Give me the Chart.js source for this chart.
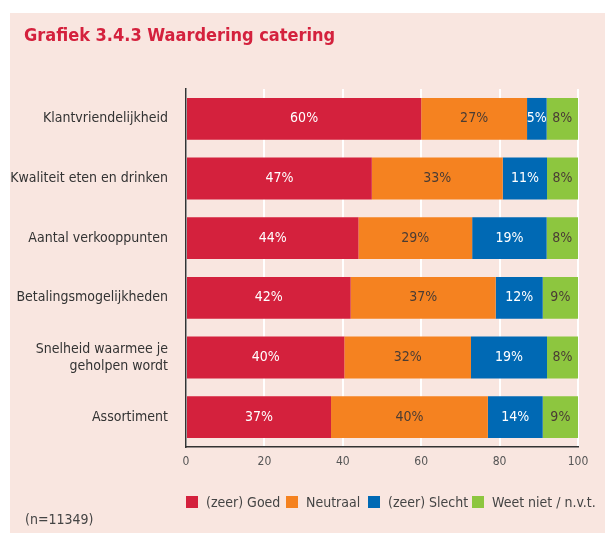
<!DOCTYPE html>
<html lang="nl">
<head>
  <meta charset="UTF-8">
  <title>Grafiek 3.4.3 Waardering catering</title>
  <style>
    body {
      margin: 0;
      background-color: #fff;
      font-family: 'Liberation Sans Narrow', 'DejaVu Sans Condensed', sans-serif;
    }
    .panel {
      position: absolute;
      left: 10px;
      top: 13px;
      width: 595px;
      height: 520px;
      background-color: #f9e6e0;
    }
    .wrap {
      position: absolute;
      left: 0;
      top: 0;
      width: 605px;
      height: 533px;
    }
    h2 {
      position: absolute;
      left: 24px;
      top: 24px;
      margin: 0;
      font-size: 18px;
      font-weight: bold;
      color: #d4213d;
    }
    .legend {
      position: absolute;
      left: 186px;
      top: 494px;
      font-size: 14px;
      color: #444;
    }
    .legend span {
      position: absolute;
      top: 0;
      white-space: nowrap;
      display: flex;
      align-items: center;
    }
    .legend i {
      display: inline-block;
      width: 12px;
      height: 12px;
      margin-right: 8px;
    }
    .note {
      position: absolute;
      left: 25px;
      top: 511px;
      font-size: 14px;
      color: #444;
    }
  </style>
</head>
<body>
  <div class="panel"></div>
  <div class="wrap"><canvas id="chart" width="605" height="533"></canvas></div>
  <h2>Grafiek 3.4.3 Waardering catering</h2>
  <div class="legend" id="legend"></div>
  <div class="note">(n=11349)</div>

  <script src="https://cdn.jsdelivr.net/npm/chart.js"></script>
  <script>
    const categories = [
      'Klantvriendelijkheid',
      'Kwaliteit eten en drinken',
      'Aantal verkooppunten',
      'Betalingsmogelijkheden',
      ['Snelheid waarmee je', 'geholpen wordt'],
      'Assortiment'
    ];
    const seriesNames = ['(zeer) Goed', 'Neutraal', '(zeer) Slecht', 'Weet niet / n.v.t.'];
    const goed = [60, 47.4, 44, 42, 40.4, 37];
    const neutraal = [27, 33.4, 29, 37, 32.3, 40];
    const slecht = [5, 11.3, 19, 12, 19.4, 14];
    const weetNiet = [8, 7.9, 8, 9, 7.9, 9];
    const xTicks = [0, 20, 40, 60, 80, 100];

    const colors = ['#d4213d', '#f58220', '#0069b4', '#8dc63f'];
    const labelColors = ['#fff', '#4a3c34', '#fff', '#4a3c34'];
    const font = "'Liberation Sans Narrow', 'DejaVu Sans Condensed', sans-serif";

    // html legend, placed like the original
    const legendDiv = document.getElementById('legend');
    const legendX = [0, 100, 182, 286];
    seriesNames.forEach((name, i) => {
      const s = document.createElement('span');
      s.style.left = legendX[i] + 'px';
      s.innerHTML = '<i style="background:' + colors[i] + '"></i>' + name;
      legendDiv.appendChild(s);
    });

    // value labels in the middle of each segment
    const valueLabels = {
      id: 'valueLabels',
      afterDatasetsDraw(chart) {
        const ctx = chart.ctx;
        ctx.save();
        ctx.font = '14px ' + font;
        ctx.textAlign = 'center';
        ctx.textBaseline = 'middle';
        chart.data.datasets.forEach((ds, i) => {
          chart.getDatasetMeta(i).data.forEach((bar, j) => {
            const mid = (bar.x + bar.base) / 2;
            ctx.fillStyle = labelColors[i];
            ctx.fillText(Math.round(ds.data[j]) + '%', mid, bar.y);
          });
        });
        ctx.restore();
      }
    };

    const ctx = document.getElementById('chart').getContext('2d');
    new Chart(ctx, {
      type: 'bar',
      data: {
        labels: categories,
        datasets: [goed, neutraal, slecht, weetNiet].map((d, i) => ({
          label: seriesNames[i],
          data: d,
          backgroundColor: colors[i],
          borderWidth: 0,
          barPercentage: 0.7,
          categoryPercentage: 1
        }))
      },
      options: {
        indexAxis: 'y',
        responsive: false,
        animation: false,
        layout: { padding: { left: 0, right: 27, top: 89, bottom: 56 } },
        plugins: {
          legend: { display: false },
          tooltip: { enabled: false }
        },
        scales: {
          x: {
            stacked: true,
            min: 0,
            max: 100,
            afterBuildTicks: (scale) => { scale.ticks = xTicks.map(v => ({ value: v })); },
            afterFit: (scale) => { scale.height = 30; },
            grid: { color: '#fff', lineWidth: 2, drawTicks: false },
            border: { color: '#333', width: 1.5 },
            ticks: { color: '#555', font: { family: font, size: 12 }, padding: 8 }
          },
          y: {
            stacked: true,
            afterFit: (scale) => { scale.width = 186; },
            grid: { display: false, drawTicks: false },
            border: { color: '#333', width: 1.5 },
            ticks: { color: '#333', font: { family: font, size: 14 }, padding: 18 }
          }
        }
      },
      plugins: [valueLabels]
    });
  </script>
</body>
</html>
